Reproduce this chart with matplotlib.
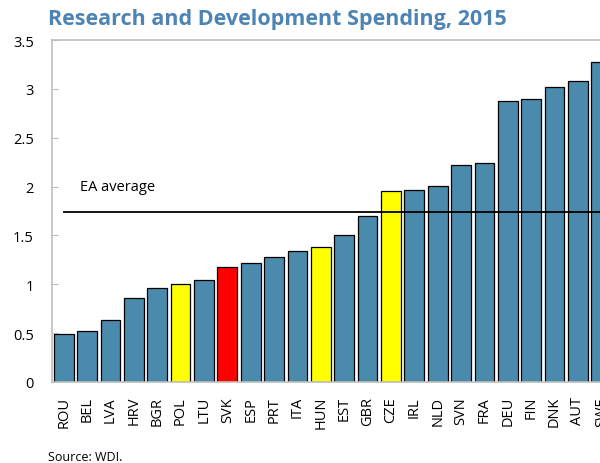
import numpy as np
import matplotlib.pyplot as plt

plt.rcParams['font.family'] = ['Open Sans', 'DejaVu Sans']

# R&D spending, % of GDP, 2015
countries = ["ROU", "BEL", "LVA", "HRV", "BGR", "POL", "LTU", "SVK", "ESP", "PRT",
             "ITA", "HUN", "EST", "GBR", "CZE", "IRL", "NLD", "SVN", "FRA", "DEU",
             "FIN", "DNK", "AUT", "SWE"]
spending = [0.49, 0.52, 0.63, 0.86, 0.96, 1.00, 1.04, 1.18, 1.22, 1.28,
            1.34, 1.38, 1.50, 1.70, 1.95, 1.97, 2.01, 2.22, 2.24, 2.88,
            2.90, 3.02, 3.08, 3.27]
ea_average = 1.74
highlight_yellow = ["POL", "HUN", "CZE"]
highlight_red = ["SVK"]

blue = "#4a8aad"
colors = []
for c in countries:
    if c in highlight_red:
        colors.append("#ff0000")
    elif c in highlight_yellow:
        colors.append("#ffff00")
    else:
        colors.append(blue)

fig = plt.figure(figsize=(6, 4.64), dpi=100)
ax = fig.add_axes([52 / 600, 81 / 464, 561 / 600, 342 / 464])

x = np.arange(len(countries))
ax.bar(x, spending, width=0.84, color=colors, edgecolor="black", linewidth=0.9, zorder=2)
ax.plot([0, len(countries)], [ea_average, ea_average], color="black", linewidth=1.3, zorder=3)
ax.text(0.68, 2.0, "EA average", fontsize=10.5, va="center", ha="left")

ax.set_xlim(-0.5, len(countries) - 0.5)
ax.set_ylim(0, 3.5)
ax.set_yticks(np.arange(0, 3.51, 0.5))
ax.set_yticklabels(["0", "0.5", "1", "1.5", "2", "2.5", "3", "3.5"])
ax.set_xticks(x)
ax.set_xticklabels(countries, rotation=90)
ax.tick_params(axis="y", direction="in", length=4.5, color="#bfbfbf", pad=13, labelsize=10.5)
ax.tick_params(axis="x", length=0, pad=10, labelsize=10.5)
for s in ax.spines.values():
    s.set_color("#bfbfbf")
    s.set_linewidth(1.2)

fig.text(48 / 600, 1 - 20 / 464, "Research and Development Spending, 2015",
         fontsize=15.5, fontweight="bold", color="#4d84b4", va="center", ha="left")
fig.text(48 / 600, 1 - 458 / 464, "Source: WDI.", fontsize=9, va="center", ha="left")

fig.savefig("out.png", dpi=100)
